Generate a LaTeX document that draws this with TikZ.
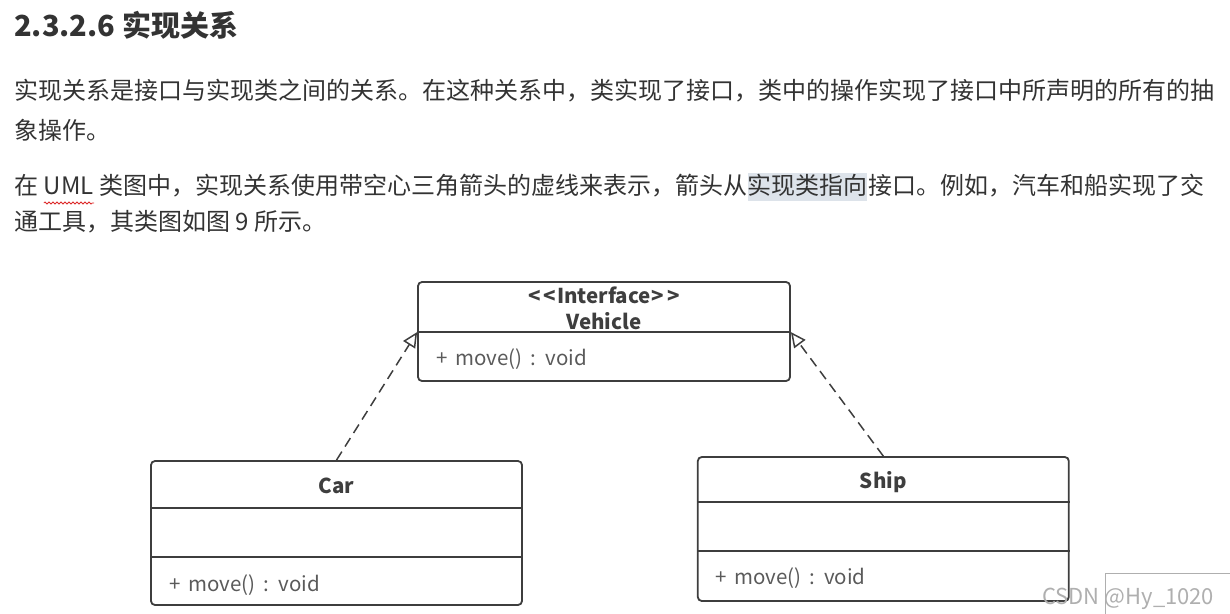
\documentclass[tikz,border=0pt]{standalone}
\usepackage{fontspec}
\setmainfont{Noto Sans CJK SC}
\newfontfamily\umlfont[WordSpace=1.7]{Noto Sans CJK SC}
\usetikzlibrary{arrows.meta,positioning,decorations.pathmorphing}
\definecolor{textdark}{RGB}{51,51,51}
\definecolor{umlline}{RGB}{62,62,62}
\definecolor{umltext}{RGB}{90,90,90}
\definecolor{selblue}{RGB}{221,227,234}
\definecolor{markgray}{RGB}{175,175,175}
\definecolor{spellred}{RGB}{220,40,40}

\begin{document}
\begin{tikzpicture}[x=1pt, y=-1pt, font=\fontsize{24}{28}\selectfont,
    txt/.style={anchor=base west, inner sep=0pt, text=textdark},
    classbox/.style={draw=umlline, line width=1.8pt, rounded corners=4pt, inner sep=0pt},
    classname/.style={anchor=base, inner sep=0pt, text=umlline, font=\umlfont\fontsize{20.5}{24}\selectfont\bfseries},
    method/.style={anchor=base west, inner sep=0pt, text=umltext, font=\umlfont\fontsize{20.5}{24}\selectfont},
    divline/.style={draw=umlline, line width=1.8pt},
    realize/.style={draw=umlline, line width=1.5pt, dash pattern=on 10pt off 6pt,
      -{Triangle[open, length=15pt, width=14pt, line width=1.5pt]}}]
  \useasboundingbox (0,0) rectangle (1230,613);

  % heading and text
  \node[txt, font=\fontsize{29}{34}\selectfont\bfseries] (title) at (14,36) {2.3.2.6 实现关系};
  \node[txt] (p1a) at (14,99) {实现关系是接口与实现类之间的关系。在这种关系中，类实现了接口，类中的操作实现了接口中所声明的所有的抽};
  \node[txt] (p1b) at (14,139) {象操作。};
  \node[txt] (p2a) at (14,194) {在\ \null};
  \node[txt] (p2uml) at (p2a.base east) {UML};
  \node[txt] (p2b) at (p2uml.base east) {\null\ 类图中，实现关系使用带空心三角箭头的虚线来表示，箭头从};
  \path (p2b.base east) ++(0,-21) coordinate (hlnw) ++(119,28) coordinate (hlse);
  \fill[selblue] (hlnw) rectangle (hlse);
  \node[txt] (p2sel) at (p2b.base east) {实现类指向};
  \node[txt] (p2c) at (p2sel.base east) {接口。例如，汽车和船实现了交};
  \node[txt] (p2d) at (14,230) {通工具，其类图如图 9 所示。};
  \draw[spellred, line width=0.8pt, decorate, decoration={snake, amplitude=1pt, segment length=4pt}]
    ([yshift=-9pt]p2uml.base west) -- ([yshift=-9pt]p2uml.base east);

  % class boxes
  \node[classbox, minimum width=372pt, minimum height=99pt] (vehicle) at (604,331.5) {};
  \node[classbox, minimum width=371pt, minimum height=144pt] (car) at (336.5,533) {};
  \node[classbox, minimum width=371pt, minimum height=144pt, right=174pt of car, yshift=4pt] (ship) {};

  \draw[divline] ([yshift=-51pt]vehicle.north west) coordinate (vehdiv) -- ([yshift=-51pt]vehicle.north east) coordinate (vehdive);
  \draw[divline] ([yshift=-48pt]car.north west) -- ([yshift=-48pt]car.north east);
  \draw[divline] ([yshift=-97pt]car.north west) -- ([yshift=-97pt]car.north east);
  \draw[divline] ([yshift=-46pt]ship.north west) -- ([yshift=-46pt]ship.north east);
  \draw[divline] ([yshift=-95pt]ship.north west) -- ([yshift=-95pt]ship.north east);

  \node[classname] (vehster) at ([yshift=-22pt]vehicle.north) {<\kern3pt<\kern1pt Interface\kern1pt>\kern3pt>};
  \node[classname] (vehname) at ([yshift=-48pt]vehicle.north) {Vehicle};
  \node[method] (vehop) at ([xshift=19pt, yshift=-84pt]vehicle.north west) {+ move() : void};

  \node[classname] (carname) at ([yshift=-33pt]car.north) {Car};
  \node[method] (carop) at ([xshift=19pt, yshift=-131pt]car.north west) {+ move() : void};

  \node[classname] (shipname) at ([yshift=-32pt]ship.north) {Ship};
  \node[method] (shipop) at ([xshift=18pt, yshift=-128pt]ship.north west) {+ move() : void};

  % realization
  \draw[realize] (car.north) -- (vehdiv);
  \draw[realize] (ship.north) -- (vehdive);

  % watermark
  \draw[markgray, line width=1pt] (1105,573) rectangle (1232,615);
  \node[anchor=base west, inner sep=0pt, text=markgray, font=\fontsize{22}{26}\selectfont] (mark) at (1042,604) {CSDN @Hy\_1020};
\end{tikzpicture}
\end{document}
